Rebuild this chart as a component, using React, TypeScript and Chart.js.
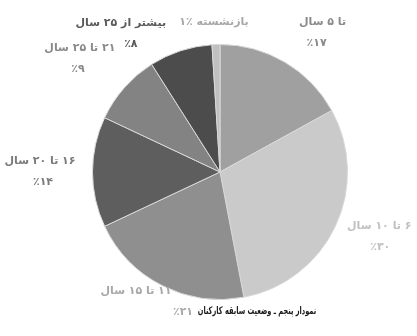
import React, { useEffect, useRef } from "react";
import { Chart, registerables } from "chart.js";
Chart.register(...registerables);

const categories = ["تا ۵ سال", "۶ تا ۱۰ سال", "۱۱ تا ۱۵ سال", "۱۶ تا ۲۰ سال", "۲۱ تا ۲۵ سال", "بیشتر از ۲۵ سال", "بازنشسته"];
const values = [17, 30, 21, 14, 9, 8, 1];
const percentLabels = ["٪۱۷", "٪۳۰", "٪۲۱", "٪۱۴", "٪۹", "٪۸", "٪۱"];
const chartTitle = "نمودار پنجم ـ وضعیت سابقه کارکنان";

const sliceColors = ["#a0a0a0", "#cacaca", "#8f8f8f", "#5e5e5e", "#838383", "#4c4c4c", "#c0c0c0"];
const labelColors = ["#8a8a8a", "#c0c0c0", "#a8a8a8", "#7a7a7a", "#8a8a8a", "#5a5a5a", "#a8a8a8"];
// [angle shift (deg), distance from centre (px), line1 dx, line2 dx, single line?]
const labelLayout: [number, number, number, number, boolean][] = [
  [5, 171, 3, -3, false],
  [-3, 172, 0, 1, false],
  [3, 150, -9, 38, false],
  [0, 180, 0, 3, false],
  [-2.5, 180, 0, -2, false],
  [-16.5, 168, -4, 6, false],
  [-0.5, 150, 0, 0, true],
];

const labelPlugin = {
  id: "outLabels",
  afterDraw(chart: any) {
    const ctx = chart.ctx;
    const meta = chart.getDatasetMeta(0);
    ctx.save();
    ctx.direction = "rtl";
    ctx.textAlign = "center";
    ctx.textBaseline = "middle";
    let cx = 0, cy = 0, r = 0;
    meta.data.forEach((arc: any, i: number) => {
      const p = arc.getProps(["x", "y", "startAngle", "endAngle", "outerRadius"], true);
      cx = p.x; cy = p.y; r = p.outerRadius;
      const [shift, dist, dx1, dx2, single] = labelLayout[i];
      const a = (p.startAngle + p.endAngle) / 2 + (shift * Math.PI) / 180;
      const lx = p.x + Math.cos(a) * dist;
      const ly = p.y + Math.sin(a) * dist;
      ctx.fillStyle = labelColors[i];
      ctx.font = "bold 11px 'DejaVu Sans'";
      if (single) {
        ctx.fillText(categories[i] + " " + percentLabels[i], lx + dx1, ly);
      } else {
        ctx.fillText(categories[i], lx + dx1, ly - 10.5);
        ctx.fillText(percentLabels[i], lx + dx2, ly + 10.5);
      }
    });
    // title, horizontally condensed
    ctx.fillStyle = "#1a1a1a";
    ctx.font = "bold 10.5px 'DejaVu Sans'";
    ctx.translate(cx + 37, cy + r + 12);
    ctx.scale(0.63, 1);
    ctx.fillText(chartTitle, 0, 0);
    ctx.restore();
  },
};

export default function App() {
  const ref = useRef<HTMLCanvasElement>(null);
  useEffect(() => {
    if (!ref.current) return;
    const chart = new Chart(ref.current, {
      type: "pie",
      data: {
        labels: categories,
        datasets: [
          {
            data: values,
            backgroundColor: sliceColors,
            borderColor: "#d8d8d8",
            borderWidth: 1,
          },
        ],
      },
      options: {
        responsive: false,
        animation: false,
        layout: { padding: { top: 44, bottom: 36, left: 92, right: 69 } },
        plugins: {
          legend: { display: false },
          tooltip: { enabled: false },
          title: { display: false },
        },
      },
      plugins: [labelPlugin],
    });
    return () => chart.destroy();
  }, []);
  return (
    <div style={{ position: "absolute", left: 0, top: 0, width: 417, height: 336, background: "#fff" }}>
      <canvas ref={ref} width={417} height={336} style={{ width: 417, height: 336 }} />
    </div>
  );
}
